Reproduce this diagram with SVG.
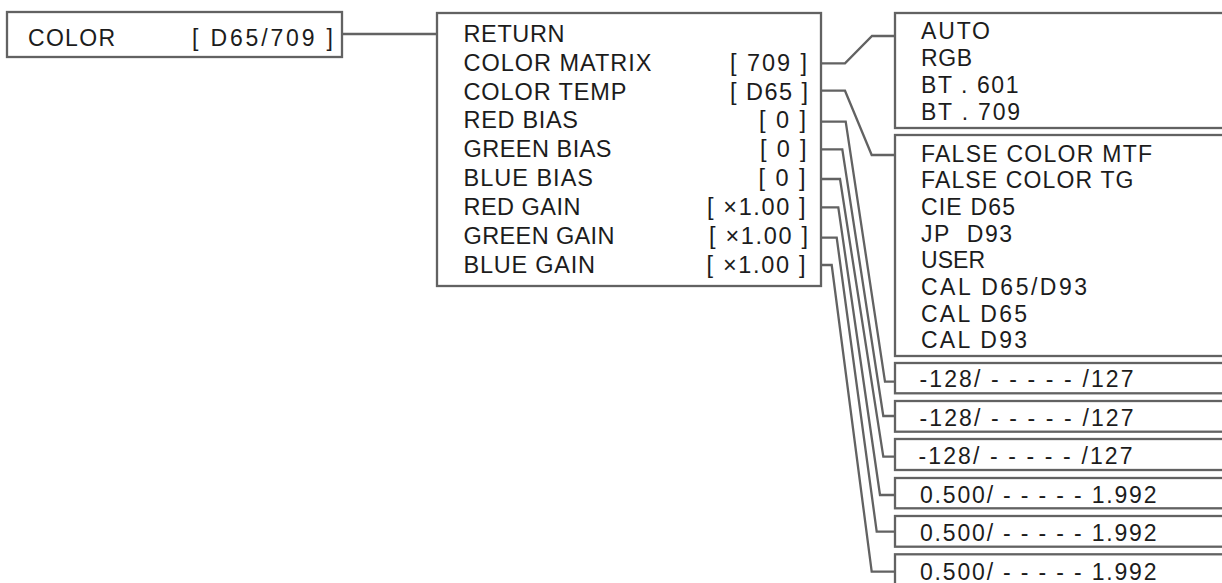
<svg xmlns="http://www.w3.org/2000/svg" width="1222" height="583" viewBox="0 0 1222 583">
<style>
.box{fill:#fff;stroke:#626262;stroke-width:2.3}
.ln{fill:none;stroke:#626262;stroke-width:2.3;stroke-linejoin:miter}
text{font-family:"Liberation Sans",Arial,sans-serif;fill:#1c1c1c}
.l{font-size:23px}
.m{font-size:23.5px}
.r{font-size:23px}
</style>
<rect width="1222" height="583" fill="#fff"/>
<g id="connectors">
<path class="ln" d="M342 34 H437"/>
<path class="ln" d="M821 63.3 H845 L872 36 H895"/>
<path class="ln" d="M821 90.7 H845 L871.7 155 H895"/>
<path class="ln" d="M821 121.7 H845.7 L885 381.7 H895"/>
<path class="ln" d="M821 149.3 H842.3 L883.3 416 H895"/>
<path class="ln" d="M821 179 H840 L883.3 456.7 H895"/>
<path class="ln" d="M821 207.3 H838.3 L880 495 H895"/>
<path class="ln" d="M821 237.7 H836.7 L876.7 531.7 H895"/>
<path class="ln" d="M821 265 H831.7 L871.7 571.7 H895"/>
</g>
<g id="color">
<rect class="box" x="7" y="12" width="335" height="45"/>
<text class="l" x="28" y="46" textLength="87" lengthAdjust="spacing">COLOR</text>
<text class="l" x="192" y="46" textLength="141" lengthAdjust="spacing">[ D65/709 ]</text>
</g>
<g id="menu">
<rect class="box" x="437" y="13" width="384" height="273"/>
<text class="m" x="463.5" y="41.7" textLength="101" lengthAdjust="spacing">RETURN</text>
<text class="m" x="463.5" y="70.6" textLength="188" lengthAdjust="spacing">COLOR MATRIX</text>
<text class="m" x="463.5" y="99.5" textLength="163" lengthAdjust="spacing">COLOR TEMP</text>
<text class="m" x="463.5" y="128.4" textLength="114.5" lengthAdjust="spacing">RED BIAS</text>
<text class="m" x="463.5" y="157.3" textLength="148" lengthAdjust="spacing">GREEN BIAS</text>
<text class="m" x="463.5" y="186.2" textLength="129.5" lengthAdjust="spacing">BLUE BIAS</text>
<text class="m" x="463.5" y="215.1" textLength="117" lengthAdjust="spacing">RED GAIN</text>
<text class="m" x="463.5" y="244" textLength="151" lengthAdjust="spacing">GREEN GAIN</text>
<text class="m" x="463.5" y="272.9" textLength="131.5" lengthAdjust="spacing">BLUE GAIN</text>
<text class="m" x="730" y="70.6" textLength="77" lengthAdjust="spacing">[ 709 ]</text>
<text class="m" x="730" y="99.5" textLength="78" lengthAdjust="spacing">[ D65 ]</text>
<text class="m" x="759" y="128.4" textLength="47" lengthAdjust="spacing">[ 0 ]</text>
<text class="m" x="760" y="157.3" textLength="46.5" lengthAdjust="spacing">[ 0 ]</text>
<text class="m" x="758.5" y="186.2" textLength="47" lengthAdjust="spacing">[ 0 ]</text>
<text class="m" x="707" y="215.1" textLength="98.5" lengthAdjust="spacing">[ ×1.00 ]</text>
<text class="m" x="709" y="244" textLength="99" lengthAdjust="spacing">[ ×1.00 ]</text>
<text class="m" x="706.5" y="272.9" textLength="99" lengthAdjust="spacing">[ ×1.00 ]</text>
</g>
<g id="matrix">
<rect class="box" x="895" y="13" width="340" height="115"/>
<text class="r" x="921" y="39.3" textLength="69" lengthAdjust="spacing">AUTO</text>
<text class="r" x="921" y="66.3" textLength="51" lengthAdjust="spacing">RGB</text>
<text class="r" x="921" y="93" textLength="97.5" lengthAdjust="spacing">BT . 601</text>
<text class="r" x="921" y="119.5" textLength="99" lengthAdjust="spacing">BT . 709</text>
</g>
<g id="temp">
<rect class="box" x="895" y="135" width="340" height="221"/>
<text class="r" x="921" y="161.7" textLength="231" lengthAdjust="spacing">FALSE COLOR MTF</text>
<text class="r" x="921" y="188.3" textLength="212.5" lengthAdjust="spacing">FALSE COLOR TG</text>
<text class="r" x="921" y="215" textLength="94" lengthAdjust="spacing">CIE D65</text>
<text class="r" x="921" y="241.7" textLength="91" lengthAdjust="spacing">JP&#160; D93</text>
<text class="r" x="921" y="268.3" textLength="64" lengthAdjust="spacing">USER</text>
<text class="r" x="921" y="295" textLength="166" lengthAdjust="spacing">CAL D65/D93</text>
<text class="r" x="921" y="321.7" textLength="106" lengthAdjust="spacing">CAL D65</text>
<text class="r" x="921" y="347.7" textLength="106" lengthAdjust="spacing">CAL D93</text>
</g>
<g id="red-bias">
<rect class="box" x="895" y="363" width="340" height="30.3"/>
<text class="r" x="919.5" y="387" textLength="214" lengthAdjust="spacing">-128/ - - - - - /127</text>
</g>
<g id="green-bias">
<rect class="box" x="895" y="401" width="340" height="30.7"/>
<text class="r" x="919.5" y="425.5" textLength="214" lengthAdjust="spacing">-128/ - - - - - /127</text>
</g>
<g id="blue-bias">
<rect class="box" x="895" y="439" width="340" height="31"/>
<text class="r" x="918.5" y="464.3" textLength="214" lengthAdjust="spacing">-128/ - - - - - /127</text>
</g>
<g id="red-gain">
<rect class="box" x="895" y="478" width="340" height="30.3"/>
<text class="r" x="920" y="503" textLength="236.5" lengthAdjust="spacing">0.500/ - - - - - 1.992</text>
</g>
<g id="green-gain">
<rect class="box" x="895" y="516" width="340" height="30.7"/>
<text class="r" x="920" y="541.3" textLength="236.5" lengthAdjust="spacing">0.500/ - - - - - 1.992</text>
</g>
<g id="blue-gain">
<rect class="box" x="895" y="554.3" width="340" height="40"/>
<text class="r" x="920" y="579.5" textLength="236.5" lengthAdjust="spacing">0.500/ - - - - - 1.992</text>
</g>
</svg>
